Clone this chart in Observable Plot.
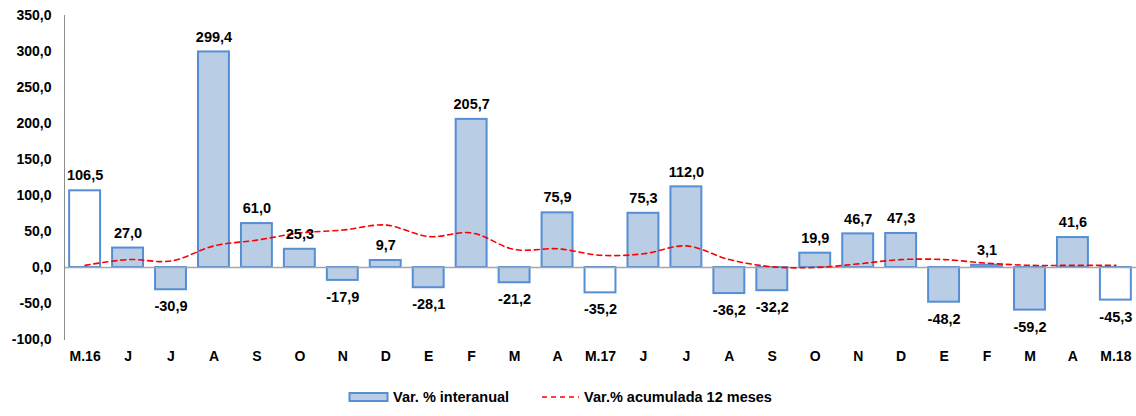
<!DOCTYPE html>
<html>
<head>
<meta charset="utf-8">
<script src="https://cdn.jsdelivr.net/npm/d3@7"></script>
<script src="https://cdn.jsdelivr.net/npm/@observablehq/plot@0.6"></script>
<style>
  body { margin: 0; background: #fff; font-family: "Liberation Sans", Arial, sans-serif; }
  #legend { display: flex; justify-content: center; align-items: center; gap: 32px; font-weight: bold; font-size: 14.5px; color: #000; padding-right: 16px; height: 41px; padding-top: 2px; box-sizing: border-box; }
  #legend span { display: inline-flex; align-items: center; gap: 3px; }
</style>
</head>
<body>
<div id="chart"></div>
<div id="legend">
  <span><svg width="42" height="12"><rect x="1.5" y="2" width="38" height="8" fill="#b9cde5" stroke="#558ed5" stroke-width="2"></rect></svg>Var. % interanual</span>
  <span><svg width="40" height="12"><line x1="1" x2="38" y1="6" y2="6" stroke="#ff0000" stroke-width="1.5" stroke-dasharray="5,4"></line></svg>Var.% acumulada 12 meses</span>
</div>
<script>
const labels = ["M.16","J","J","A","S","O","N","D","E","F","M","A","M.17","J","J","A","S","O","N","D","E","F","M","A","M.18"];
const interanual = [106.5, 27.0, -30.9, 299.4, 61.0, 25.3, -17.9, 9.7, -28.1, 205.7, -21.2, 75.9, -35.2, 75.3, 112.0, -36.2, -32.2, 19.9, 46.7, 47.3, -48.2, 3.1, -59.2, 41.6, -45.3];
const acumulada = [3, 11, 9, 30, 38, 48, 52, 59, 43, 48, 25, 26, 17, 19, 30, 11, 1, 0, 5, 11, 11, 6, 3, 3, 3];
const yTicks = [-100, -50, 0, 50, 100, 150, 200, 250, 300, 350];

const data = labels.map((l, i) => ({
  i, label: l, v: interanual[i], acc: acumulada[i], hollow: l.startsWith("M.")
}));

const fmt = d => d.toFixed(1).replace(".", ",");

const chart = Plot.plot({
  width: 1136,
  height: 375,
  marginTop: 15,
  marginBottom: 36,
  marginLeft: 64,
  marginRight: 0,
  style: { fontFamily: "Liberation Sans, Arial, sans-serif", fontWeight: "bold", fontSize: "14px", color: "#000" },
  x: { domain: data.map(d => d.i), paddingInner: 0.28, paddingOuter: 0.12, round: false, label: null },
  y: { domain: [-100, 350], ticks: yTicks, label: null },
  marks: [
    Plot.barY(data, { x: "i", y: "v", fill: d => d.hollow ? "#ffffff" : "#b9cde5", stroke: "#558ed5", strokeWidth: 2 }),
    Plot.ruleY([0], { stroke: "#a6a6a6", strokeWidth: 1.5 }),
    Plot.frame({ anchor: "left", stroke: "#8c8c8c" }),
    Plot.line(data, { x: "i", y: "acc", stroke: "#ff0000", strokeWidth: 1.6, strokeDasharray: "5,4", curve: "catmull-rom" }),
    Plot.text(data.filter(d => d.v >= 0), { x: "i", y: "v", text: d => fmt(d.v), dy: -15, fontSize: 14.5, fontWeight: "bold", fill: "#000" }),
    Plot.text(data.filter(d => d.v < 0), { x: "i", y: "v", text: d => fmt(d.v), dy: 17, fontSize: 14.5, fontWeight: "bold", fill: "#000" }),
    Plot.axisY({ ticks: yTicks, tickFormat: fmt, tickSize: 0, tickPadding: 13, fontSize: 14, fontWeight: "bold" }),
    Plot.axisX({ tickFormat: i => labels[i], tickSize: 0, tickPadding: 12, fontSize: 14, fontWeight: "bold" })
  ]
});

document.getElementById("chart").append(chart);
</script>
</body>
</html>
